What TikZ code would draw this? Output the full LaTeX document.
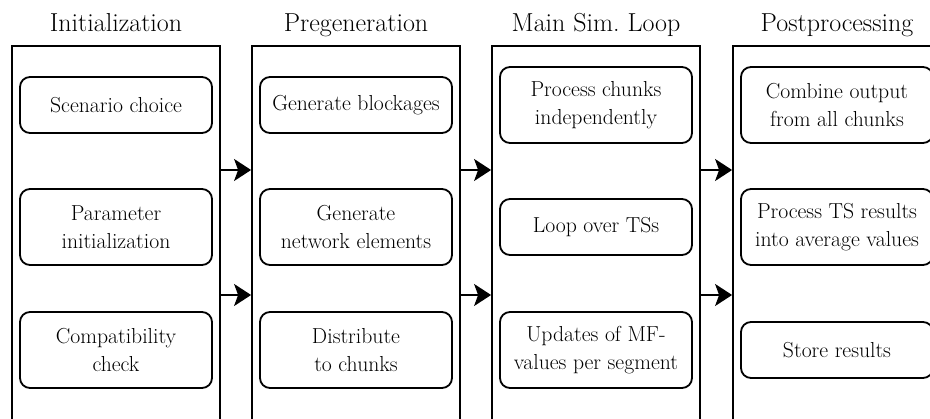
\documentclass[tikz,border=0pt]{standalone}
\usetikzlibrary{arrows.meta}
\begin{document}
\begin{tikzpicture}[x=1pt,y=-1pt,
  frame/.style={draw,line width=1.8pt,minimum width=208pt,minimum height=400pt,
    anchor=north,inner sep=0pt},
  title/.style={font=\fontsize{26}{31}\selectfont,anchor=base},
  stage/.style={draw,line width=1.8pt,rounded corners=10pt,minimum width=192pt,
    align=center,inner sep=0pt,font=\fontsize{21.7}{28}\selectfont},
  one/.style={stage,minimum height=56pt},
  two/.style={stage,minimum height=76pt},
  flow/.style={line width=1.8pt,-{Stealth[length=17pt,width=22pt,inset=4pt]}}]
\clip (0,0) rectangle (930,419);

% phase frames, open towards the bottom edge
\node[frame] (c1) at (116,45) {};
\node[frame] (c2) at (356,45) {};
\node[frame] (c3) at (596,45) {};
\node[frame] (c4) at (837,45) {};

% phase titles
\node[title] (t1) at (116,32) {Initialization};
\node[title] (t2) at (356,32) {Pregeneration};
\node[title] (t3) at (596,32) {Main Sim.\ Loop};
\node[title] (t4) at (837,32) {Postprocessing};

% Initialization
\node[one] (s11) at (116,105) {Scenario choice};
\node[two] (s12) at (116,227) {Parameter\\initialization};
\node[two] (s13) at (116,350) {Compatibility\\check};

% Pregeneration
\node[one] (s21) at (356,105) {Generate blockages};
\node[two] (s22) at (356,227) {Generate\\network elements};
\node[two] (s23) at (356,350) {Distribute\\to chunks};

% Main simulation loop
\node[two] (s31) at (596,105) {Process chunks\\independently};
\node[one] (s32) at (596,227) {Loop over TSs};
\node[two] (s33) at (596,350) {Updates of MF-\\values per segment};

% Postprocessing
\node[two] (s41) at (837,105) {Combine output\\from all chunks};
\node[two] (s42) at (837,227) {Process TS results\\into average values};
\node[one] (s43) at (837,350) {Store results};

% hand-over levels between phases
\coordinate (ya) at (0,170);
\coordinate (yb) at (0,295);
\draw[flow] (c1.east |- ya) -- (c2.west |- ya);
\draw[flow] (c1.east |- yb) -- (c2.west |- yb);
\draw[flow] (c2.east |- ya) -- (c3.west |- ya);
\draw[flow] (c2.east |- yb) -- (c3.west |- yb);
\draw[flow] (c3.east |- ya) -- (c4.west |- ya);
\draw[flow] (c3.east |- yb) -- (c4.west |- yb);
\end{tikzpicture}
\end{document}
